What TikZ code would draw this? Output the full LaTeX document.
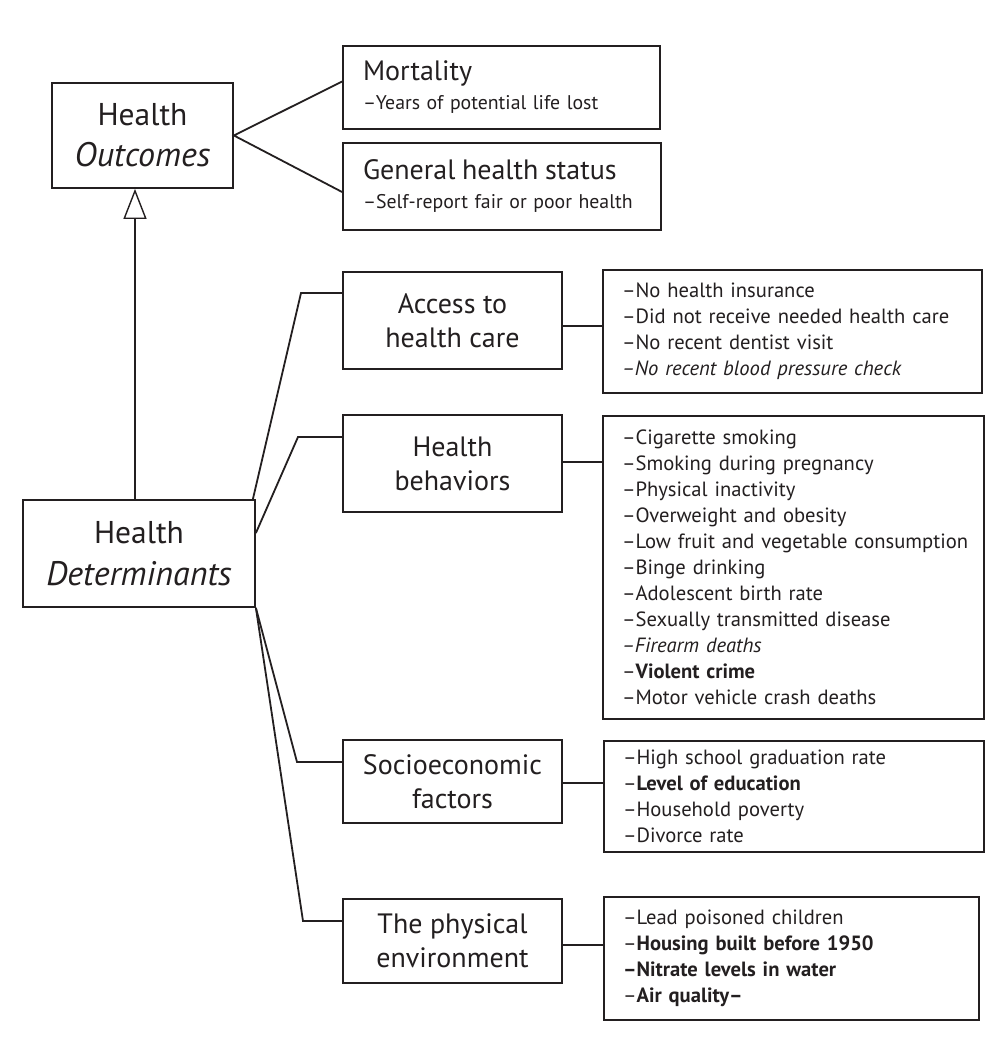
\documentclass[tikz,border=0pt]{standalone}
\usepackage{fontspec}
\setmainfont{PT Sans}
\usetikzlibrary{arrows.meta,calc}
\definecolor{ink}{HTML}{231F20}
\newcommand{\upfs}{\fontsize{31.5}{41}\selectfont}
\newcommand{\itfs}{\fontsize{34}{41}\selectfont\itshape}
\newcommand{\ttlfs}{\fontsize{28}{29}\selectfont}
\newcommand{\ldash}[1]{–#1}
\begin{document}
\begin{tikzpicture}[x=1pt,y=-1pt,
  box/.style={draw=ink, line width=1.8pt, inner sep=0pt, text=ink},
  big/.style={box, align=center, font=\fontsize{32}{41}\selectfont},
  cat/.style={box, minimum width=219pt, align=center, font=\fontsize{28}{34}\selectfont},
  outc/.style={box, align=left, inner xsep=20pt, font=\fontsize{19.8}{29}\selectfont},
  list/.style={box, align=left, inner xsep=19pt, font=\fontsize{20.6}{26}\selectfont},
  wire/.style={draw=ink, line width=1.8pt, line join=miter},
  ]
\fill[white] (0,0) rectangle (1006,1046);
\useasboundingbox (0,0) rectangle (1006,1046);

% main boxes
\node[big, minimum width=181pt, minimum height=105pt] (ho) at (142.5,135.5) {{\upfs Health}\\{\itfs Outcomes}};
\node[big, minimum width=232pt, minimum height=107pt, font=\fontsize{32}{42}\selectfont] (hd) at (139,553.5) {{\upfs Health}\\{\itfs Determinants}};

% outcomes
\node[outc, minimum width=317pt, minimum height=83pt, text width=277pt] (mort) at (501.5,87.5)
  {{\ttlfs Mortality}\\–Years of potential life lost};
\node[outc, minimum width=318pt, minimum height=87pt, text width=278pt] (gen) at (502,186.5)
  {{\ttlfs General health status}\\–Self-report fair or poor health};

% categories
\node[cat, minimum height=97pt] (acc) at (452.5,320.5) {Access to\\health care};
\node[cat, minimum height=97pt] (beh) at (452.5,463.5) {Health\\behaviors};
\node[cat, minimum height=83pt] (soc) at (452.5,781.5) {Socioeconomic\\factors};
\node[cat, minimum height=84pt] (phy) at (452.5,941) {The physical\\environment};

% item lists
\node[list, minimum height=123pt, text width=341pt] (acci) at (792.5,331.5)
  {–No health insurance\\–Did not receive needed health care\\–No recent dentist visit\\\textit{–No recent blood pressure check}};
\node[list, minimum height=303pt, text width=343pt] (behi) at (793.5,567.5)
  {\ldash{Cigarette smoking}\\–Smoking during pregnancy\\\ldash{Physical inactivity}\\–Overweight and obesity\\\mbox{\ldash{Low fruit and vegetable consumption}}\\–Binge drinking\\–Adolescent birth rate\\–Sexually transmitted disease\\\textit{–Firearm deaths}\\–\textbf{Violent crime}\\–Motor vehicle crash deaths};
\node[list, minimum height=111pt, text width=342pt] (soci) at (794,796.5)
  {–High school graduation rate\\–\textbf{Level of education}\\–Household poverty\\–Divorce rate};
\node[list, minimum height=123pt, text width=337pt] (phyi) at (791.5,958.5)
  {\ldash{Lead poisoned children}\\\ldash{\textbf{Housing built before 1950}}\\\textbf{–Nitrate levels in water}\\\ldash{\textbf{Air quality–}}};

% outcome connectors
\draw[wire] ([yshift=6pt]mort.west) -- (ho.east) -- ([yshift=-5.5pt]gen.west);

% generalization arrow
\coordinate (tip) at ([xshift=-7.5pt]ho.south);
\draw[draw=ink, line width=1.4pt, -{Triangle[open, length=30pt, width=23pt, line width=1.4pt]}]
  (hd.north -| tip) -- (tip);

% determinant connectors
\coordinate (ka) at (301,293);
\coordinate (kb) at (298,437);
\coordinate (kc) at (297,762);
\coordinate (kd) at (303,921);
\draw[wire] ([xshift=-3pt]hd.north east) -- (ka) -- (ka -| acc.west);
\draw[wire] ([yshift=20.5pt]hd.east) -- (kb) -- (kb -| beh.west);
\draw[wire] (hd.south east) -- (kc) -- (kc -| soc.west);
\draw[wire] (hd.south east) -- (kd) -- (kd -| phy.west);

% category to list connectors
\coordinate (la) at (562,326);
\coordinate (lb) at (562,462);
\coordinate (lc) at (562,783);
\coordinate (ld) at (562,945);
\draw[wire] (la -| acc.east) -- (la -| acci.west);
\draw[wire] (lb -| beh.east) -- (lb -| behi.west);
\draw[wire] (lc -| soc.east) -- (lc -| soci.west);
\draw[wire] (ld -| phy.east) -- (ld -| phyi.west);
\end{tikzpicture}
\end{document}
